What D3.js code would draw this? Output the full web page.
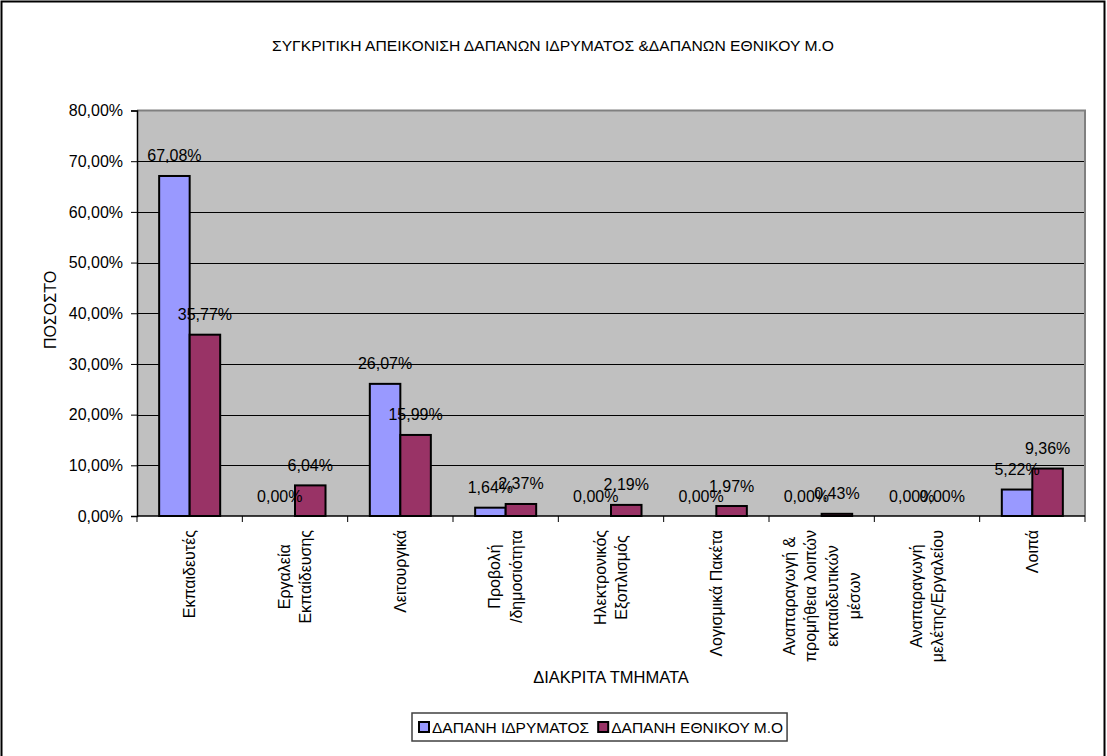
<!DOCTYPE html>
<html>
<head>
<meta charset="utf-8">
<script src="https://cdn.jsdelivr.net/npm/d3@7"></script>
<style>
  html, body { margin: 0; padding: 0; background: #ffffff; }
  svg { display: block; font-family: "Liberation Sans", Arial, sans-serif; }
</style>
</head>
<body>
<svg id="chart" width="1107" height="756"></svg>
<script>
// ---- data ----
const categories = [
  ["Εκπαιδευτές"],
  ["Εργαλεία", "Εκπαίδευσης"],
  ["Λειτουργικά"],
  ["Προβολή", "/δημοσιότητα"],
  ["Ηλεκτρονικός", "Εξοπλισμός"],
  ["Λογισμικά Πακέτα"],
  ["Αναπαραγωγή &", "προμήθεια λοιπών", "εκπαιδευτικών", "μέσων"],
  ["Αναπαραγωγή", "μελέτης/Εργαλείου"],
  ["Λοιπά"]
];
const seriesNames = ["ΔΑΠΑΝΗ ΙΔΡΥΜΑΤΟΣ", "ΔΑΠΑΝΗ ΕΘΝΙΚΟΥ Μ.Ο"];
const institutionValues = [67.08, 0.00, 26.07, 1.64, 0.00, 0.00, 0.00, 0.00, 5.22];
const nationalValues    = [35.77, 6.04, 15.99, 2.37, 2.19, 1.97, 0.43, 0.00, 9.36];
const yTicks = [0, 10, 20, 30, 40, 50, 60, 70, 80];
const seriesColors = ["#9999FF", "#993366"];
const titleText = "ΣΥΓΚΡΙΤΙΚΗ ΑΠΕΙΚΟΝΙΣΗ ΔΑΠΑΝΩΝ ΙΔΡΥΜΑΤΟΣ &ΔΑΠΑΝΩΝ ΕΘΝΙΚΟΥ Μ.Ο";
const yTitle = "ΠΟΣΟΣΤΟ";
const xTitle = "ΔΙΑΚΡΙΤΑ ΤΜΗΜΑΤΑ";

// ---- layout ----
const svg = d3.select("#chart");
const plot = { left: 137, right: 1085, top: 110.5, bottom: 516 };
const FS = 16;
const fmt = v => v.toFixed(2).replace(".", ",") + "%";

// outer border
svg.append("rect").attr("x", 1.5).attr("y", 1.5).attr("width", 1103).attr("height", 800)
  .attr("fill", "#fff").attr("stroke", "#000").attr("stroke-width", 2);

const catIdx = categories.map((d, i) => i);
const x0 = d3.scaleBand().domain(catIdx).range([plot.left, plot.right]).padding(0);
const x1 = d3.scaleBand().domain([0, 1]).range([0, x0.bandwidth()]).paddingInner(0).paddingOuter(0.726);
const y = d3.scaleLinear().domain([0, 80]).range([plot.bottom, plot.top]);

// plot background
svg.append("rect").attr("x", plot.left).attr("y", plot.top)
  .attr("width", plot.right - plot.left).attr("height", plot.bottom - plot.top)
  .attr("fill", "#C0C0C0");

// gridlines
svg.append("g").selectAll("line").data(yTicks.filter(t => t > 0 && t < 80)).join("line")
  .attr("x1", plot.left).attr("x2", plot.right)
  .attr("y1", d => Math.round(y(d)) + 0.5).attr("y2", d => Math.round(y(d)) + 0.5)
  .attr("stroke", "#000").attr("stroke-width", 1);

// plot border top/right (gray)
svg.append("path")
  .attr("d", `M${plot.left},${plot.top}H${plot.right}V${plot.bottom}`)
  .attr("fill", "none").attr("stroke", "#808080").attr("stroke-width", 2);

// y axis
const yAxis = d3.axisLeft(y).tickValues(yTicks).tickSize(6).tickPadding(8)
  .tickFormat(d => d.toFixed(2).replace(".", ",") + "%");
const gy = svg.append("g").attr("transform", `translate(${plot.left},0)`).call(yAxis);
gy.select(".domain").attr("stroke", "#000").attr("stroke-width", 1.5);
gy.selectAll(".tick line").attr("stroke", "#000");
gy.selectAll(".tick text").attr("font-size", FS).attr("fill", "#000")
  .attr("font-family", "Liberation Sans, Arial, sans-serif");

// x axis line and ticks at category boundaries
svg.append("line").attr("x1", plot.left).attr("x2", plot.right)
  .attr("y1", plot.bottom).attr("y2", plot.bottom).attr("stroke", "#000").attr("stroke-width", 1.5);
const bounds = catIdx.map(i => x0(i)).concat([plot.right]);
svg.append("g").selectAll("line").data(bounds).join("line")
  .attr("x1", d => d).attr("x2", d => d)
  .attr("y1", plot.bottom).attr("y2", plot.bottom + 6)
  .attr("stroke", "#000").attr("stroke-width", 1);

// bars
const seriesData = [institutionValues, nationalValues];
const barsG = svg.append("g");
seriesData.forEach((vals, s) => {
  barsG.append("g").selectAll("rect").data(vals).join("rect")
    .attr("x", (d, i) => x0(i) + x1(s))
    .attr("y", d => y(d))
    .attr("width", x1.bandwidth())
    .attr("height", d => plot.bottom - y(d))
    .attr("fill", seriesColors[s])
    .attr("stroke", "#000").attr("stroke-width", 2);
});

// data labels
seriesData.forEach((vals, s) => {
  svg.append("g").selectAll("text").data(vals).join("text")
    .attr("x", (d, i) => x0(i) + x1(s) + x1.bandwidth() / 2)
    .attr("y", d => y(d) - 20)
    .attr("text-anchor", "middle").attr("dominant-baseline", "central")
    .attr("font-size", FS).attr("fill", "#000")
    .text(d => fmt(d));
});

// category labels
const lineGap = 21.7;
categories.forEach((lines, i) => {
  const cx = x0(i) + x0.bandwidth() / 2;
  const g = svg.append("g");
  const texts = g.selectAll("text").data(lines).join("text")
    .attr("font-size", FS).attr("fill", "#000")
    .attr("text-anchor", "middle").attr("dominant-baseline", "central")
    .text(d => d);
  let maxLen = 0;
  texts.each(function () { maxLen = Math.max(maxLen, this.getComputedTextLength()); });
  const n = lines.length;
  g.attr("transform", `translate(${cx},${plot.bottom + 14 + maxLen / 2}) rotate(-90)`);
  texts.attr("x", 0).attr("y", (d, k) => (k - (n - 1) / 2) * lineGap);
});

// title
svg.append("text").attr("x", 553).attr("y", 46)
  .attr("text-anchor", "middle").attr("dominant-baseline", "central")
  .attr("font-size", 14.5).attr("fill", "#000")
  .attr("textLength", 562).attr("lengthAdjust", "spacingAndGlyphs")
  .text(titleText);

// axis titles
svg.append("text").attr("transform", `translate(50,310) rotate(-90)`)
  .attr("text-anchor", "middle").attr("dominant-baseline", "central")
  .attr("font-size", FS).attr("fill", "#000").text(yTitle);
svg.append("text").attr("x", (plot.left + plot.right) / 2).attr("y", 677)
  .attr("text-anchor", "middle").attr("dominant-baseline", "central")
  .attr("font-size", 16.5).attr("fill", "#000").text(xTitle);

// legend
const lg = svg.append("g");
const lbox = lg.append("rect").attr("fill", "#fff").attr("stroke", "#404040").attr("stroke-width", 1.5);
let lx = 419;
const ly = 727;
seriesNames.forEach((name, s) => {
  lg.append("rect").attr("x", lx).attr("y", ly - 5).attr("width", 10).attr("height", 10)
    .attr("fill", seriesColors[s]).attr("stroke", "#000").attr("stroke-width", 2);
  const t = lg.append("text").attr("x", lx + 13).attr("y", ly)
    .attr("dominant-baseline", "central").attr("font-size", 15.5).attr("fill", "#000").text(name);
  lx = lx + 13 + t.node().getComputedTextLength() + (s === 0 ? 9 : 4);
});
lbox.attr("x", 412).attr("y", 713).attr("width", lx - 412).attr("height", 28);
</script>
</body>
</html>
